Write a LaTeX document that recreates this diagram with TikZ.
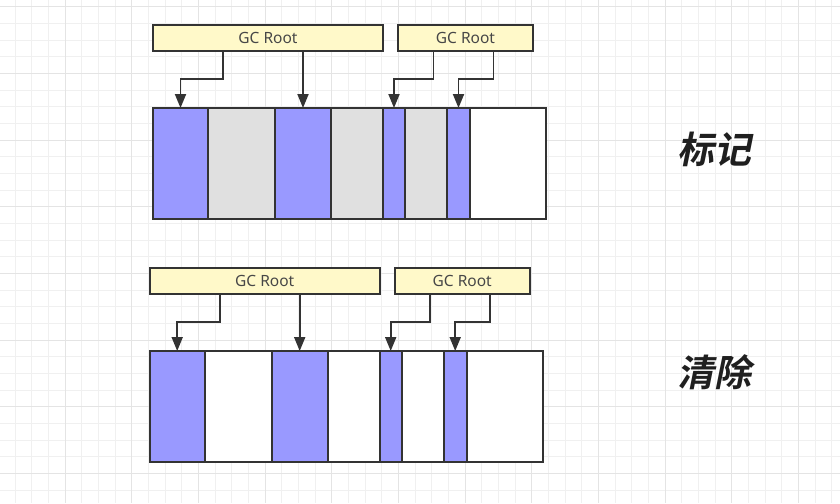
\documentclass[tikz,border=0pt]{standalone}
\usepackage{fontspec}
\setmainfont{Noto Sans}
\newfontfamily\cjkfont[FakeSlant=0.2]{Noto Sans CJK SC Bold}
\usetikzlibrary{arrows.meta}
\definecolor{markblue}{RGB}{153,153,255}
\definecolor{deadgray}{RGB}{224,224,224}
\definecolor{rootyellow}{RGB}{255,249,201}
\definecolor{edge}{RGB}{51,51,51}
\definecolor{gridminor}{RGB}{240,240,240}
\definecolor{gridmajor}{RGB}{228,228,228}

\begin{document}
\begin{tikzpicture}[x=1pt,y=-1pt,
    root/.style={draw=edge,line width=1.9pt,fill=rootyellow,minimum height=26pt,
      inner sep=0pt,outer sep=0pt,anchor=north west,font=\fontsize{15.5}{16}\selectfont,text=black!72},
    cell/.style={draw=edge,line width=1.9pt,minimum height=111pt,inner sep=0pt,
      outer sep=0pt,anchor=north west},
    arr/.style={edge,line width=1.9pt,-{Triangle[width=11pt,length=14pt]}},
    tag/.style={font=\cjkfont\fontsize{37}{38}\selectfont,text=black!88}]
  \useasboundingbox (0,0) rectangle (840,503);
  % background grid
  \foreach \k in {0,...,50} \draw[gridminor,line width=0.8pt] ({-1.667+16.667*\k},0) -- ++(0,503);
  \foreach \k in {0,...,30} \draw[gridminor,line width=0.8pt] (0,{6.667+16.667*\k}) -- ++(840,0);
  \foreach \k in {0,...,12} \draw[gridmajor,line width=0.8pt] ({-1.667+66.667*\k},0) -- ++(0,503);
  \foreach \k in {0,...,7} \draw[gridmajor,line width=0.8pt] (0,{6.667+66.667*\k}) -- ++(840,0);

  % mark (m) and sweep (s) rows
  \foreach \row/\dx/\dy/\dead in {m/0/0/deadgray, s/-3.3/243/white}{
    \begin{scope}[shift={(\dx,\dy)}]
      \node[root,minimum width=230pt] (\row-A) at (153,25) {GC Root};
      \node[root,minimum width=135pt] (\row-B) at (398,25) {GC Root};
      \foreach \i/\xa/\xb/\kind in {1/153/208/markblue, 2/208/275/\dead, 3/275/331/markblue,
          4/331/383/\dead, 5/383/405/markblue, 6/405/447/\dead, 7/447/470/markblue, 8/470/546/white}
        \node[cell,fill=\kind,minimum width={(\xb-\xa)*1pt}] (\row-\i) at (\xa,108) {};
      \draw[arr] ([xshift=-45pt]\row-A.south) -- ++(0,28) -| (\row-1.north);
      \draw[arr] (\row-3.north |- \row-A.south) -- (\row-3.north);
      \draw[arr] ([xshift=-32pt]\row-B.south) -- ++(0,28) -| (\row-5.north);
      \draw[arr] ([xshift=28pt]\row-B.south) -- ++(0,28) -| (\row-7.north);
    \end{scope}
  }
  \node[tag] (markTag) at (714,149) {标记};
  \node[tag] (sweepTag) at (714,372) {清除};
\end{tikzpicture}
\end{document}
